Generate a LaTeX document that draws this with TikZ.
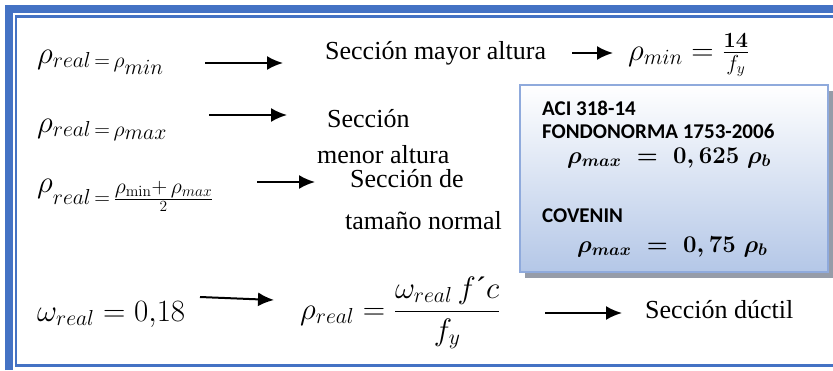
\RequirePackage{fix-cm}
\documentclass[tikz,border=0pt]{standalone}
\usepackage{amsmath}
\usepackage{amssymb}
\usepackage[no-math]{fontspec}
\setmainfont{Liberation Serif}
\newfontfamily\calibri{Carlito}
\usepackage{tikz}
\usetikzlibrary{arrows.meta,shadows}
\tikzset{>={Latex[length=16pt,width=14pt]}}

\definecolor{marco}{RGB}{68,114,196}
\definecolor{cajaazul}{RGB}{180,199,231}
\definecolor{bordeazul}{RGB}{143,170,220}
\definecolor{sombra}{RGB}{150,156,168}

\tikzset{
  texto/.style={inner sep=0pt,anchor=base west,font=\fontsize{26}{30}\selectfont},
  formula/.style={inner sep=0pt,anchor=base west,font=\fontsize{31}{36}\selectfont},
  norma/.style={inner sep=0pt,anchor=base west,font=\fontsize{21}{24}\calibri\bfseries},
  negrita/.style={inner sep=0pt,anchor=base west,font=\fontsize{24}{28}\selectfont\boldmath},
  flecha/.style={->,line width=2pt},
  caja/.style={draw=bordeazul,line width=1.5pt,top color=white,bottom color=cajaazul,
    minimum width=308pt,minimum height=187pt,inner sep=0pt,
    drop shadow={shadow xshift=5pt,shadow yshift=-6pt,fill=sombra,opacity=1}}
}

\begin{document}
\begin{tikzpicture}[x=1pt,y=-1pt]
      \useasboundingbox (0,0) rectangle (833,370);
      % marco doble
      \draw[marco,line width=7.5pt] (8.8,370) -- (8.8,8.8) -- (833,8.8);
      \draw[marco,line width=2.5pt] (833,16.7) -- (16.2,16.7) -- (16.2,365.5) -- (833,365.5);
      % caja de normas
      \node[caja] (caja) at (674,178.5) {};
      \node[norma] (aci) at (542,115) {ACI 318-14};
      \node[norma] (fondo) at (542,138) {FONDONORMA 1753-2006};
      \node[negrita] (rmax1) at (567,163) {$\rho_{max}\;=\;0,625\;\rho_b$};
      \node[norma] (cov) at (542,222) {COVENIN};
      \node[negrita] (rmax2) at (577,252) {$\rho_{max}\;=\;0,75\;\rho_b$};
      % cuantias
      \node[formula] (r1) at (37,63) {$\rho_{real\,=\,\rho_{\scriptstyle min}}$};
      \node[formula] (r2) at (37,132) {$\rho_{real\,=\,\rho_{\scriptstyle max}}$};
      \node[formula] (r3) at (37,192) {$\rho_{real\,=\,\frac{\scriptstyle\rho_{\mathrm{min}}+\,\rho_{max}}{\scriptscriptstyle 2}}$};
      \node[formula] (w4) at (37,321) {$\omega_{real}=0{,}18$};
      \node[formula] (r4) at (300,319) {$\rho_{real}=\dfrac{\omega_{real}\,f\text{\textasciiacute}c}{f_y}$};
      \node[formula] (m1) at (628,60) {$\rho_{min}=\frac{\mathbf{14}}{f_y}$};
      % secciones
      \node[texto] (s1) at (325,59) {Sección mayor altura};
      \node[texto] (s2) at (327,127) {Sección};
      \node[texto] (s3) at (317,163) {menor altura};
      \node[texto] (s4) at (350,187) {Sección de};
      \node[texto] (s5) at (345,229) {tamaño normal};
      \node[texto] (s6) at (645,318) {Sección dúctil};
      % flechas
      \coordinate (a1) at (205,63);  \coordinate (b1) at (283,63);
      \coordinate (a2) at (572,53);  \coordinate (b2) at (613,53);
      \coordinate (a3) at (209,115); \coordinate (b3) at (287,115);
      \coordinate (a4) at (257,182); \coordinate (b4) at (315,182);
      \coordinate (a5) at (200,297); \coordinate (b5) at (274,300);
      \coordinate (a6) at (545,313); \coordinate (b6) at (622,313);
      \draw[flecha] (a1) -- (b1);
      \draw[flecha] (a2) -- (b2);
      \draw[flecha] (a3) -- (b3);
      \draw[flecha] (a4) -- (b4);
      \draw[flecha] (a5) -- (b5);
      \draw[flecha] (a6) -- (b6);
\end{tikzpicture}
\end{document}
